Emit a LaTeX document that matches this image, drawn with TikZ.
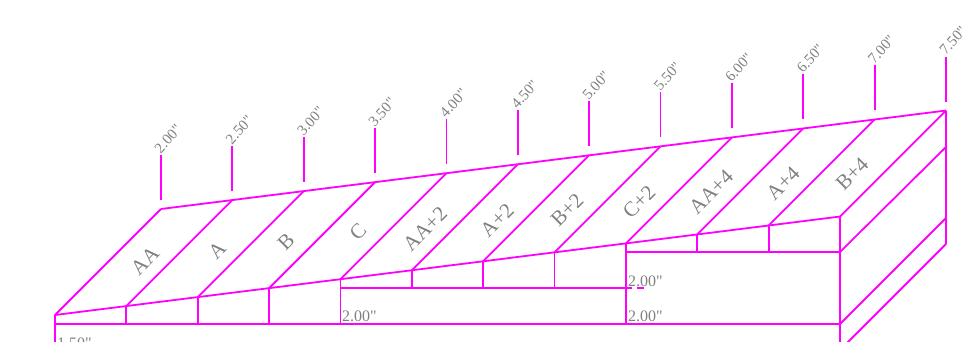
\documentclass[tikz,border=0pt]{standalone}
\usepackage{fontspec}
\newfontfamily\plainserif{Liberation Serif}
\definecolor{framecolor}{RGB}{255,0,255}
\tikzset{
  frameline/.style={draw=framecolor, line width=1.8pt},
  sizelabel/.style={text=gray, font=\plainserif\fontsize{16}{16}\selectfont, inner sep=0pt},
  heightlabel/.style={text=gray, font=\plainserif\fontsize{15}{15}\selectfont, inner sep=0pt, rotate=48},
  slotlabel/.style={text=gray, font=\plainserif\fontsize{21}{21}\selectfont, inner sep=0pt, rotate=45}
}
\begin{document}
\begin{tikzpicture}[x=1pt,y=-1pt]
	\useasboundingbox (0,0) rectangle (968,342);
	\def\xstep{71.36}
	\def\ystep{8.95}
	\def\xleft{55}
	\def\ylow{315}
	\def\dx{106}
	\def\dy{106}
	\def\ybase{324}

	% slots, heights above them
	\foreach \i in {0,...,11}{
		\coordinate (low\i) at (\xleft+\i*\xstep,\ylow-\i*\ystep);
		\coordinate (up\i) at (\xleft+\dx+\i*\xstep,\ylow-\dy-\i*\ystep);
		\draw[frameline] (low\i) -- (up\i);
		\draw[frameline] (\xleft+\dx+\i*\xstep,\ylow-\dy-\i*\ystep-9) -- (\xleft+\dx+\i*\xstep,\ylow-\dy-\i*\ystep-54);
	}
	\foreach \i/\h in {0/2.00,1/2.50,2/3.00,3/3.50,4/4.00,5/4.50,6/5.00,7/5.50,8/6.00,9/6.50,10/7.00,11/7.50}
		\node[heightlabel] (height\i) at (\xleft+\dx+\i*\xstep+7,\ylow-\dy-\i*\ystep-70) {\h"};

	\draw[frameline] (low0) -- (low11);
	\draw[frameline] (up0) -- (up11);

	% steps
	\draw[frameline] (\xleft,\ylow) -- (\xleft,342);
	\draw[frameline] (\xleft,\ybase) -- (low11 |- 0,\ybase);
	\draw[frameline] (low4) -- (low4 |- 0,\ybase);
	\draw[frameline] (low8) -- (low8 |- 0,\ybase);
	\draw[frameline] (low4 |- 0,288) -- (632,288);
	\draw[frameline] (637,288) -- (644,288);
	\draw[frameline] (low8 |- 0,252) -- (low11 |- 0,252);
	\foreach \i in {1,2,3}
		\draw[frameline] (low\i) -- (low\i |- 0,\ybase);
	\foreach \i in {5,6,7}
		\draw[frameline] (low\i) -- (low\i |- 0,288);
	\foreach \i in {9,10}
		\draw[frameline] (low\i) -- (low\i |- 0,252);

	% right side
	\draw[frameline] (low11) -- (840,342);
	\draw[frameline] (up11) -- (946,244);
	\draw[frameline] (840,252) -- (946,147);
	\draw[frameline] (840,324) -- (946,218);
	\draw[frameline] (840,350) -- (946,244);

	\foreach \t/\x/\y in {AA/145/261,A/217/250,B/286/242,C/358/232,AA+2/425/229,A+2/497/220,B+2/567/210,C+2/639/202,AA+4/711/192,A+4/783/183,B+4/852/174}
		\node[slotlabel] (slot\t) at (\x,\y) {\t};

	\node[sizelabel,anchor=west] (stepa) at (342,316) {2.00"};
	\node[sizelabel,anchor=west] (stepb) at (628,316) {2.00"};
	\node[sizelabel,anchor=west] (stepc) at (628,281) {2.00"};
	\node[sizelabel,anchor=west] (stepd) at (57,343) {1.50"};
\end{tikzpicture}
\end{document}
